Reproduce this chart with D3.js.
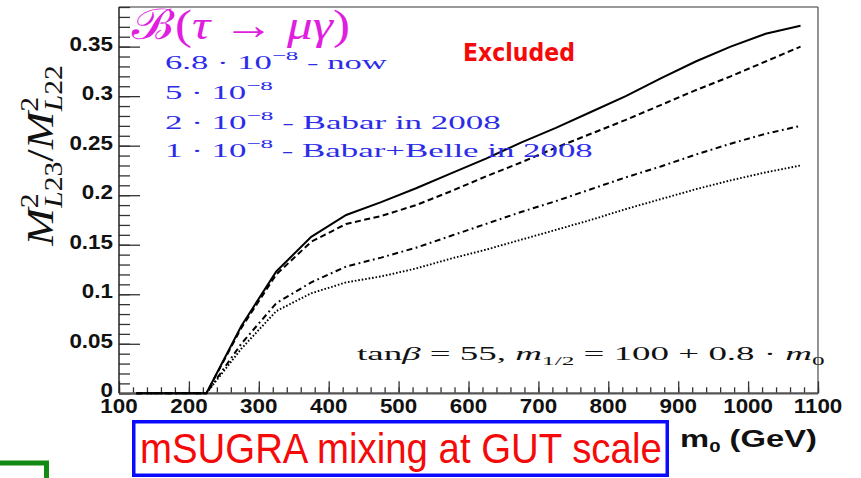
<!DOCTYPE html>
<html>
<head>
<meta charset="utf-8">
<script src="https://cdn.jsdelivr.net/npm/d3@7"></script>
<style>
  body { margin: 0; background: #fff; }
  svg { display: block; }
</style>
</head>
<body>
<svg id="chart" width="861" height="478"></svg>
<script>
// m0 grid (GeV) and the upper limit on M^2_L23 / M^2_L22 for each BR(tau -> mu gamma) bound
const m0 = [125, 175, 225, 275, 325, 375, 425, 475, 525, 575, 625, 675, 725, 775, 825, 875, 925, 975, 1025, 1075];
const limit68e8 = [0, 0, 0, 0.068, 0.123, 0.158, 0.180, 0.193, 0.207, 0.222, 0.237, 0.253, 0.268, 0.284, 0.300, 0.318, 0.335, 0.350, 0.363, 0.371];
const limit50e8 = [0, 0, 0, 0.066, 0.120, 0.153, 0.171, 0.179, 0.190, 0.204, 0.219, 0.233, 0.248, 0.262, 0.276, 0.291, 0.306, 0.320, 0.335, 0.350];
const limit20e8 = [0, 0, 0, 0.050, 0.091, 0.112, 0.128, 0.137, 0.147, 0.159, 0.171, 0.183, 0.194, 0.206, 0.218, 0.229, 0.241, 0.252, 0.262, 0.270];
const limit10e8 = [0, 0, 0, 0.045, 0.083, 0.101, 0.112, 0.118, 0.126, 0.136, 0.145, 0.155, 0.165, 0.175, 0.186, 0.196, 0.206, 0.215, 0.223, 0.230];

// legend entries
const legendMantissas = ["6.8", "5", "2", "1"];
const legendNotes = [" - now", "", " - Babar in 2008", " - Babar+Belle in 2008"];

// axis ticks
const xTickValues = [100, 200, 300, 400, 500, 600, 700, 800, 900, 1000, 1100];
const xTickLabels = ["100", "200", "300", "400", "500", "600", "700", "800", "900", "1000", "1100"];
const yTickValues = [0, 0.05, 0.1, 0.15, 0.2, 0.25, 0.3, 0.35];
const yTickLabels = ["0", "0.05", "0.1", "0.15", "0.2", "0.25", "0.3", "0.35"];

const SERIF = "'Liberation Serif', 'DejaVu Serif', serif";
const SANS = "'Liberation Sans', Arial, sans-serif";
const BLUE = "#2c2ce8";
const MAGENTA = "#e01ee0";
const RED = "#f50a0a";

const svg = d3.select("#chart");
const plot = { left: 119, right: 818, top: 7, bottom: 393.3 };

const x = d3.scaleLinear().domain([100, 1100]).range([plot.left, plot.right]);
const y = d3.scaleLinear().domain([0, 0.39]).range([plot.bottom, plot.top]);

// Builds a text inside a group, then stretches it horizontally to a given width.
function fitted(parent, x0, y0, width, build, rotate) {
  const g = parent.append("g");
  const t = g.append("text");
  build(t);
  const bb = t.node().getBBox();
  const s = width / bb.width;
  g.attr("transform",
    `translate(${x0},${y0})` + (rotate ? ` rotate(${rotate})` : "") +
    ` scale(${s},1) translate(${-bb.x},0)`);
  return g;
}

// ---- frame ----
svg.append("line").attr("x1", plot.left).attr("x2", plot.right)
  .attr("y1", plot.top).attr("y2", plot.top)
  .attr("stroke", "#333").attr("stroke-width", 1.2);
svg.append("line").attr("x1", plot.right).attr("x2", plot.right)
  .attr("y1", plot.top).attr("y2", plot.bottom)
  .attr("stroke", "#666").attr("stroke-width", 1.4);

// ---- ticks (drawn inward) ----
const tickStyle = g => {
  g.select(".domain").remove();
  g.selectAll(".tick line").attr("stroke", "#333").attr("stroke-width", 1.3);
};
svg.append("g").attr("transform", `translate(${plot.left},0)`)
  .call(d3.axisLeft(y).tickValues(d3.range(0, 0.3901, 0.01)).tickSize(-11).tickFormat(""))
  .call(tickStyle);
svg.append("g").attr("transform", `translate(${plot.left},0)`)
  .call(d3.axisLeft(y).tickValues(yTickValues).tickSize(-21).tickFormat(""))
  .call(tickStyle);
svg.append("g").attr("transform", `translate(0,${plot.bottom})`)
  .call(d3.axisBottom(x).tickValues(d3.range(100, 1101, 20)).tickSize(-6).tickFormat(""))
  .call(tickStyle);
svg.append("g").attr("transform", `translate(0,${plot.bottom})`)
  .call(d3.axisBottom(x).tickValues(xTickValues).tickSize(-12).tickFormat(""))
  .call(tickStyle);

// axis lines
svg.append("line").attr("x1", plot.left).attr("x2", plot.right)
  .attr("y1", plot.bottom).attr("y2", plot.bottom)
  .attr("stroke", "#555").attr("stroke-width", 2.2);
svg.append("line").attr("x1", plot.left).attr("x2", plot.left)
  .attr("y1", plot.top).attr("y2", plot.bottom)
  .attr("stroke", "#222").attr("stroke-width", 1.5);

// tick labels
xTickValues.forEach((v, i) => {
  svg.append("g").attr("transform", `translate(${x(v)},${plot.bottom + 20}) scale(1.15,1)`)
    .append("text").attr("text-anchor", "middle")
    .attr("font-family", SANS).attr("font-weight", "bold").attr("font-size", 19.5)
    .attr("fill", "#111").text(xTickLabels[i]);
});
yTickValues.forEach((v, i) => {
  svg.append("g").attr("transform", `translate(${plot.left - 6},${y(v) + 4}) scale(1.15,1)`)
    .append("text").attr("text-anchor", "end")
    .attr("font-family", SANS).attr("font-weight", "bold").attr("font-size", 19.5)
    .attr("fill", "#111").text(yTickLabels[i]);
});

// ---- curves ----
const series = [
  { values: limit10e8, dash: "1.6,1.9", width: 1.9 },
  { values: limit20e8, dash: "6,3.5,1.8,3.5", width: 2 },
  { values: limit50e8, dash: "6,3.5", width: 2 },
  { values: limit68e8, dash: null, width: 2 }
];
const line = d3.line().x((d, i) => x(m0[i])).y(d => y(d));
svg.append("g").selectAll("path").data(series).join("path")
  .attr("d", d => line(d.values))
  .attr("fill", "none").attr("stroke", "#000")
  .attr("stroke-width", d => d.width)
  .attr("stroke-dasharray", d => d.dash);

// ---- title ----
fitted(svg, 131, 39, 219, t => {
  t.attr("font-family", SERIF).attr("font-size", 42).attr("fill", MAGENTA);
  t.append("tspan").attr("font-family", "'DejaVu Serif', 'Noto Sans', serif").attr("font-style", "italic").text("ℬ");
  t.append("tspan").text("(");
  t.append("tspan").attr("font-style", "italic").text("τ");
  t.append("tspan").text(" → ");
  t.append("tspan").attr("font-style", "italic").text("μγ");
  t.append("tspan").text(")");
});

// ---- legend ----
const legendBaselines = [69, 99, 129, 157];
const legendWidths = [222, 108, 336, 428];
legendMantissas.forEach((mant, i) => {
  fitted(svg, 165, legendBaselines[i], legendWidths[i], t => {
    t.attr("font-family", SERIF).attr("font-size", 18).attr("fill", BLUE);
    t.append("tspan").text(`${mant} · 10`);
    t.append("tspan").attr("dy", -9).attr("font-size", 13).text("−8");
    t.append("tspan").attr("dy", 9).text(legendNotes[i]);
  });
});

// ---- Excluded ----
fitted(svg, 463, 61, 112, t => {
  t.attr("font-family", "'DejaVu Sans', sans-serif").attr("font-weight", "bold")
    .attr("font-size", 25).attr("fill", RED).text("Excluded");
});

// ---- parameter note ----
fitted(svg, 357, 360, 468, t => {
  t.attr("font-family", SERIF).attr("font-size", 19).attr("fill", "#111");
  t.append("tspan").text("tan");
  t.append("tspan").attr("font-style", "italic").text("β");
  t.append("tspan").text(" = 55, ");
  t.append("tspan").attr("font-style", "italic").text("m");
  t.append("tspan").attr("dy", 5).attr("font-size", 13).text("1/2");
  t.append("tspan").attr("dy", -5).text(" = 100 + 0.8 · ");
  t.append("tspan").attr("font-style", "italic").text("m");
  t.append("tspan").attr("dy", 5).attr("font-size", 13).text("0");
});

// ---- y axis title: M^2_{L23} / M^2_{L22} ----
fitted(svg, 53, 247, 182, t => {
  t.attr("font-family", SERIF).attr("font-size", 38).attr("fill", "#111");
  [["L23", "/"], ["L22", ""]].forEach(([sub, after]) => {
    t.append("tspan").attr("font-style", "italic").text("M");
    t.append("tspan").attr("dy", -15).attr("font-size", 25).text("2");
    t.append("tspan").attr("dx", -12).attr("dy", 24).attr("font-size", 25)
      .attr("font-style", "italic").text("L");
    t.append("tspan").attr("font-size", 25).text(sub.slice(1));
    t.append("tspan").attr("dy", -9).text(after);
  });
}, -90);

// ---- x axis title ----
fitted(svg, 680, 447, 137, t => {
  t.attr("font-family", SANS).attr("font-weight", "bold").attr("font-size", 24).attr("fill", "#111");
  t.append("tspan").text("m");
  t.append("tspan").attr("dy", 5).attr("font-size", 15).text("0");
  t.append("tspan").attr("dy", -5).text(" (GeV)");
});

// ---- boxed caption ----
svg.append("rect").attr("x", 133.75).attr("y", 421.75).attr("width", 533.5).attr("height", 53.5)
  .attr("fill", "none").attr("stroke", "#0a0aff").attr("stroke-width", 3.5);
fitted(svg, 140, 463, 522, t => {
  t.attr("font-family", SANS).attr("font-size", 42).attr("fill", RED)
    .text("mSUGRA mixing at GUT scale");
});

// ---- green corner bracket ----
svg.append("path").attr("d", "M0,463 H46.5 V478")
  .attr("fill", "none").attr("stroke", "#138a13").attr("stroke-width", 5);
</script>
</body>
</html>
